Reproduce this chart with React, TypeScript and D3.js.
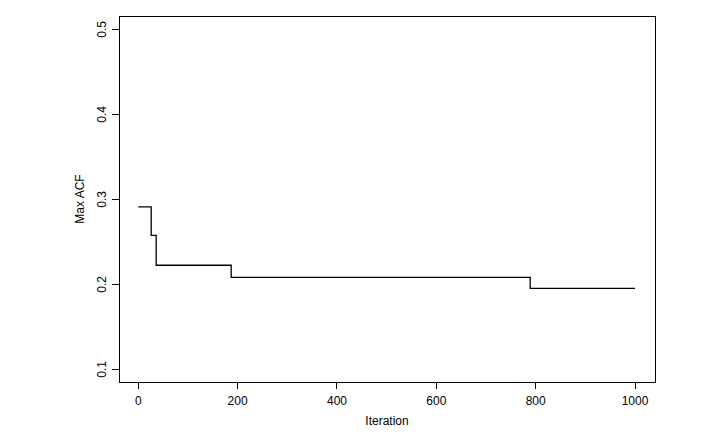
import React from "react";
import * as d3 from "d3";

// change points of the running max ACF
const iterations = [0, 26, 36, 187, 789, 1000];
const maxAcf = [0.291, 0.2576, 0.2224, 0.2082, 0.1953, 0.1953];
const xTicks = [0, 200, 400, 600, 800, 1000];
const yTicks = [0.1, 0.2, 0.3, 0.4, 0.5];

const W = 718;
const H = 437;
const box = { left: 119, right: 655, top: 16, bottom: 382 };

const App = () => {
  const x = d3.scaleLinear().domain([0, 1000]).range([138.3, 635]);
  const y = d3.scaleLinear().domain([0.1, 0.5]).range([369.3, 29.3]);

  const pts: [number, number][] = iterations.map((d, i) => [d, maxAcf[i]]);
  const line = d3
    .line<[number, number]>()
    .x((d) => x(d[0]))
    .y((d) => y(d[1]))
    .curve(d3.curveStepAfter);

  const font = "'Liberation Sans', Arial, sans-serif";

  return (
    <svg
      width={W}
      height={H}
      style={{ position: "absolute", left: 0, top: 0, background: "#fff" }}
      fontFamily={font}
    >
      <rect x={0} y={0} width={W} height={H} fill="#fff" />
      {/* plot box */}
      <rect
        x={box.left}
        y={box.top}
        width={box.right - box.left}
        height={box.bottom - box.top}
        fill="none"
        stroke="#000"
        strokeWidth={1}
        shapeRendering="crispEdges"
      />

      {/* x axis ticks */}
      <g shapeRendering="crispEdges">
        {xTicks.map((t) => (
          <line key={t} x1={x(t)} x2={x(t)} y1={box.bottom} y2={box.bottom + 7} stroke="#000" />
        ))}
      </g>
      {xTicks.map((t) => (
        <text key={t} x={x(t)} y={405} textAnchor="middle" fontSize={12}>
          {t}
        </text>
      ))}
      <text x={(box.left + box.right) / 2} y={425} textAnchor="middle" fontSize={12}>
        Iteration
      </text>

      {/* y axis ticks */}
      <g shapeRendering="crispEdges">
        {yTicks.map((t) => (
          <line key={t} x1={box.left - 7} x2={box.left} y1={y(t)} y2={y(t)} stroke="#000" />
        ))}
      </g>
      {yTicks.map((t) => (
        <text
          key={t}
          transform={`translate(106,${y(t)}) rotate(-90)`}
          textAnchor="middle"
          fontSize={12}
        >
          {d3.format(".1f")(t)}
        </text>
      ))}
      <text
        transform={`translate(84,${(box.top + box.bottom) / 2}) rotate(-90)`}
        textAnchor="middle"
        fontSize={12}
      >
        Max ACF
      </text>

      {/* step line */}
      <path d={line(pts) || ""} fill="none" stroke="#000" strokeWidth={1.3} />
    </svg>
  );
};

export default App;
